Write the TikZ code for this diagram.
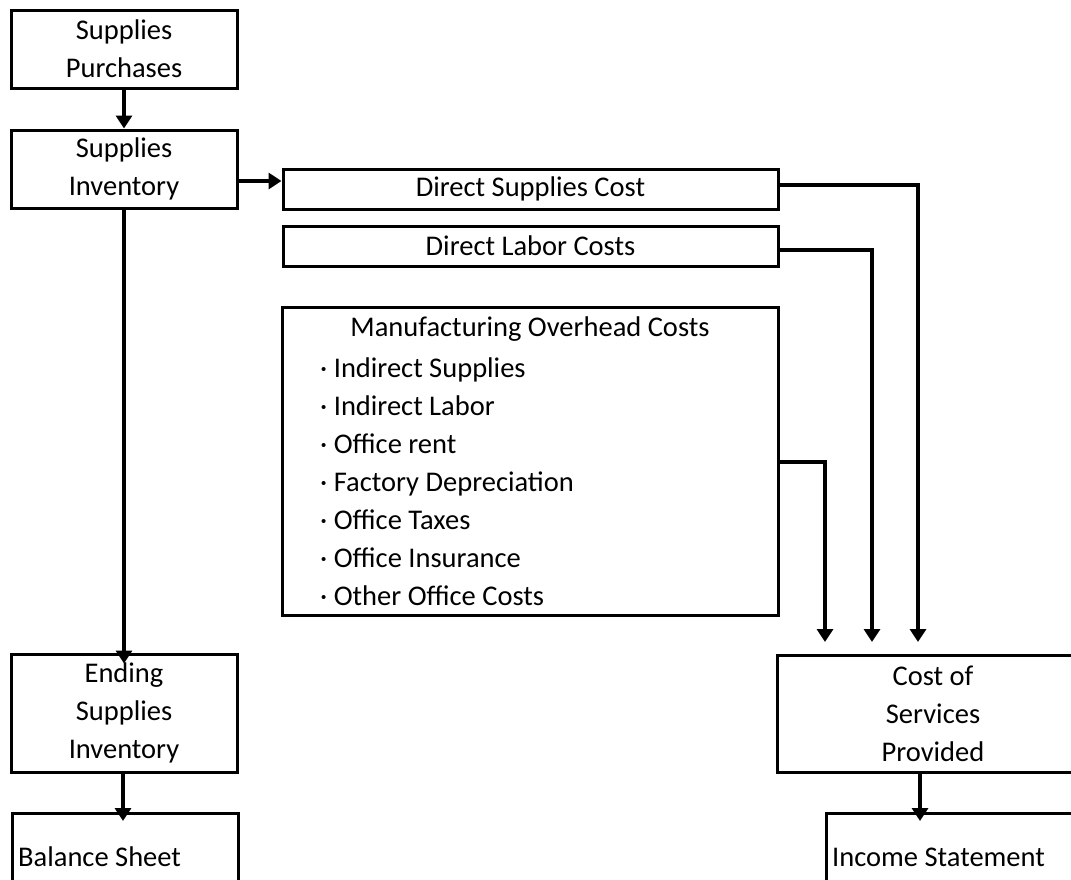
\documentclass[tikz,border=0pt]{standalone}
\usepackage{fontspec}
\setmainfont{Carlito}
\usetikzlibrary{arrows.meta}
\begin{document}
\begin{tikzpicture}[x=1pt,y=-1pt,
  txt/.style={font=\fontsize{28.5}{38}\selectfont},
  box/.style={draw,line width=3pt,inner sep=0pt,align=center,txt},
  plainbox/.style={draw,line width=3pt,inner sep=0pt,anchor=north west},
  arr/.style={line width=3.5pt,-{Triangle[length=13pt,width=16pt]}},
  con/.style={line width=3.5pt}]
\useasboundingbox (0,0) rectangle (1071,879);
\clip (0,0) rectangle (1071,879);
% boxes
\node[box,minimum width=226pt,minimum height=78pt] (SP) at (124,49) {Supplies\\Purchases};
\node[box,minimum width=226pt,minimum height=78pt] (SI) at (124,169) {Supplies\\Inventory};
\node[box,minimum width=495pt,minimum height=40pt] (DSC) at (530.5,189) {Direct Supplies Cost};
\node[box,minimum width=495pt,minimum height=40pt] (DLC) at (530.5,246) {Direct Labor Costs};
\node[draw,line width=3pt,minimum width=496pt,minimum height=308pt,inner sep=0pt] (MOC) at (530,461) {};
\node[txt,anchor=center] (MOCt) at (530,329) {Manufacturing Overhead Costs};
\node[txt,align=left,anchor=west,inner sep=0pt] (MOCl) at (320,482)
  {· Indirect Supplies\\· Indirect Labor\\· Office rent\\· Factory Depreciation\\· Office Taxes\\· Office Insurance\\· Other Office Costs};
\node[box,minimum width=226pt,minimum height=118pt] (ESI) at (124,713) {Ending\\Supplies\\Inventory};
\node[box,minimum width=312pt,minimum height=117pt] (CSP) at (933,713.5) {Cost of\\Services\\Provided};
\node[plainbox,minimum width=226pt,minimum height=92pt] (BS) at (11,812) {};
\node[txt,anchor=west,inner sep=0pt] (BSt) at (18,857) {Balance Sheet};
\node[plainbox,minimum width=290pt,minimum height=92pt] (IS) at (825,812) {};
\node[txt,anchor=west,inner sep=0pt] (ISt) at (832,857) {Income Statement};
% coordinates
\coordinate (t1) at (825,642);
\coordinate (t2) at (872,642);
\coordinate (t3) at (918,642);
% connectors
\draw[arr] (SP.south) -- (SI.north);
\draw[arr] (SI.east |- 0,181) -- (DSC.west |- 0,181);
\draw[arr] (SI.south) -- ([yshift=-11pt]ESI.north);
\draw[arr] (ESI.south -| 123,0) -- ([yshift=-9pt]BS.north -| 123,0);
\draw[arr] (CSP.south -| 920,0) -- ([yshift=-9pt]IS.north -| 920,0);
\draw[arr] (DSC.east |- 0,185) -| (t3);
\draw[arr] (DLC.east |- 0,250) -| (t2);
\draw[arr] (MOC.east |- 0,462) -| (t1);
\end{tikzpicture}
\end{document}
